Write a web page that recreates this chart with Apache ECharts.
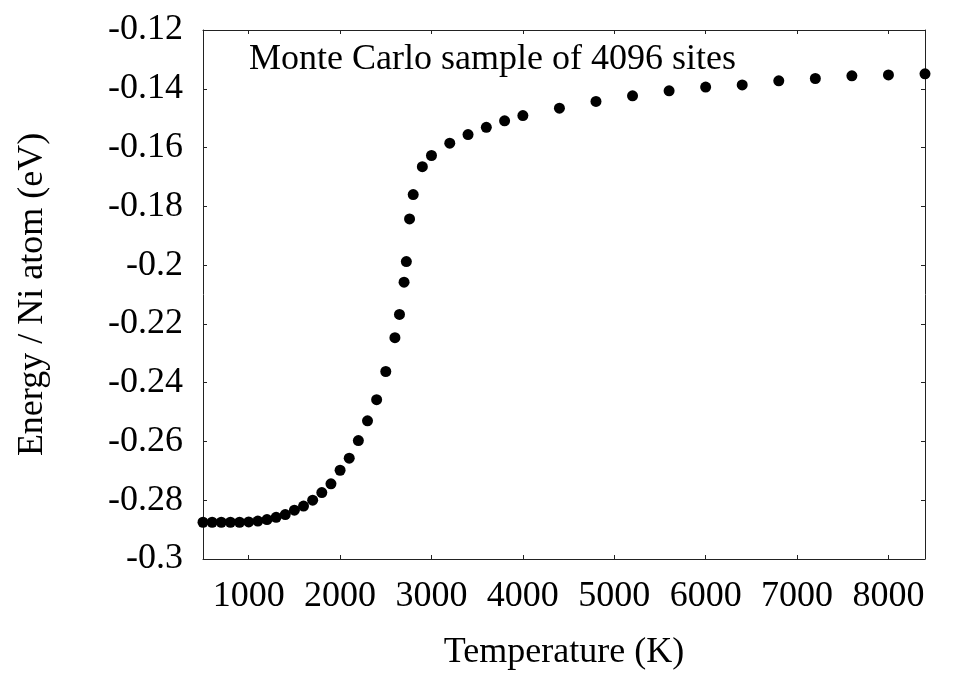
<!DOCTYPE html>
<html>
<head>
<meta charset="utf-8">
<script src="https://cdn.jsdelivr.net/npm/echarts@6/dist/echarts.min.js"></script>
<style>
  html, body { margin: 0; padding: 0; background: #fff; }
  #main { width: 958px; height: 698px; }
</style>
</head>
<body>
<div id="main"></div>
<script>
// temperature (K) of each Monte Carlo run
var temps = [500, 600, 700, 800, 900, 1000, 1100, 1200, 1300, 1400,
  1500, 1600, 1700, 1800, 1900, 2000, 2100, 2200, 2300, 2400,
  2500, 2600, 2650, 2700, 2725, 2760, 2800, 2900, 3000, 3200,
  3400, 3600, 3800, 4000, 4400, 4800, 5200, 5600, 6000, 6400,
  6800, 7200, 7600, 8000, 8400];
// energy per Ni atom (eV)
var energies = [-0.2875, -0.2875, -0.2875, -0.2875, -0.2875, -0.2874, -0.2871, -0.2866, -0.2858, -0.2849,
  -0.2834, -0.2820, -0.2800, -0.2774, -0.2744, -0.2698, -0.2657, -0.2597, -0.2530, -0.2458,
  -0.2362, -0.2247, -0.2168, -0.2058, -0.1988, -0.1843, -0.1760, -0.1665, -0.1627, -0.1585,
  -0.1556, -0.1531, -0.1509, -0.1491, -0.1466, -0.1443, -0.1424, -0.1407, -0.1394, -0.1387,
  -0.1373, -0.1365, -0.1356, -0.1353, -0.1349];

var xTicks = [1000, 2000, 3000, 4000, 5000, 6000, 7000, 8000];
var xTickLabels = ['1000', '2000', '3000', '4000', '5000', '6000', '7000', '8000'];
var yTicks = [-0.3, -0.28, -0.26, -0.24, -0.22, -0.2, -0.18, -0.16, -0.14, -0.12];
var yTickLabels = ['-0.3', '-0.28', '-0.26', '-0.24', '-0.22', '-0.2', '-0.18', '-0.16', '-0.14', '-0.12'];

var serif = 'Liberation Serif';

var chart = echarts.init(document.getElementById('main'), null, { renderer: 'canvas' });

var points = [];
for (var i = 0; i < temps.length; i++) {
  points.push([temps[i], energies[i]]);
}

// look the label up in the named lists
function pickLabel(ticks, labels, v) {
  for (var k = 0; k < ticks.length; k++) {
    if (Math.abs(ticks[k] - v) < 1e-6 * Math.max(1, Math.abs(v))) return labels[k];
  }
  return '';
}

var lineStyle = { color: '#222', width: 1 };
var tickStyle = { show: true, inside: true, length: 4, lineStyle: { color: '#222', width: 1 } };

var option = {
  backgroundColor: '#fff',
  animation: false,
  title: {
    text: 'Monte Carlo sample of 4096 sites',
    left: 244,
    top: 37,
    textStyle: { fontFamily: serif, fontSize: 36, fontWeight: 'normal', color: '#000' }
  },
  grid: { left: 203, right: 33, top: 30, bottom: 139 },
  xAxis: [
    {
      type: 'value',
      min: 500,
      max: 8400,
      name: 'Temperature (K)',
      nameLocation: 'middle',
      nameGap: 76,
      nameTextStyle: { fontFamily: serif, fontSize: 36, color: '#000' },
      axisLine: { show: true, onZero: false, lineStyle: lineStyle },
      axisTick: Object.assign({ customValues: xTicks }, tickStyle),
      axisLabel: {
        customValues: xTicks,
        formatter: function (v) { return pickLabel(xTicks, xTickLabels, v); },
        fontFamily: serif, fontSize: 36, color: '#000', margin: 20
      },
      splitLine: { show: false }
    },
    {
      type: 'value',
      position: 'top',
      min: 500,
      max: 8400,
      axisLine: { show: true, onZero: false, lineStyle: lineStyle },
      axisTick: Object.assign({ customValues: xTicks }, tickStyle),
      axisLabel: { show: false },
      splitLine: { show: false }
    }
  ],
  yAxis: [
    {
      type: 'value',
      min: -0.3,
      max: -0.12,
      name: 'Energy / Ni atom (eV)',
      nameLocation: 'middle',
      nameGap: 152,
      nameTextStyle: { fontFamily: serif, fontSize: 36, color: '#000' },
      axisLine: { show: true, onZero: false, lineStyle: lineStyle },
      axisTick: Object.assign({ customValues: yTicks }, tickStyle),
      axisLabel: {
        customValues: yTicks,
        formatter: function (v) { return pickLabel(yTicks, yTickLabels, v); },
        fontFamily: serif, fontSize: 36, color: '#000', margin: 20
      },
      splitLine: { show: false }
    },
    {
      type: 'value',
      position: 'right',
      min: -0.3,
      max: -0.12,
      axisLine: { show: true, onZero: false, lineStyle: lineStyle },
      axisTick: Object.assign({ customValues: yTicks }, tickStyle),
      axisLabel: { show: false },
      splitLine: { show: false }
    }
  ],
  series: [
    {
      type: 'scatter',
      data: points,
      symbol: 'circle',
      symbolSize: 11,
      clip: false,
      itemStyle: { color: '#000', opacity: 1 },
      z: 5
    }
  ]
};

chart.setOption(option);
</script>
</body>
</html>
